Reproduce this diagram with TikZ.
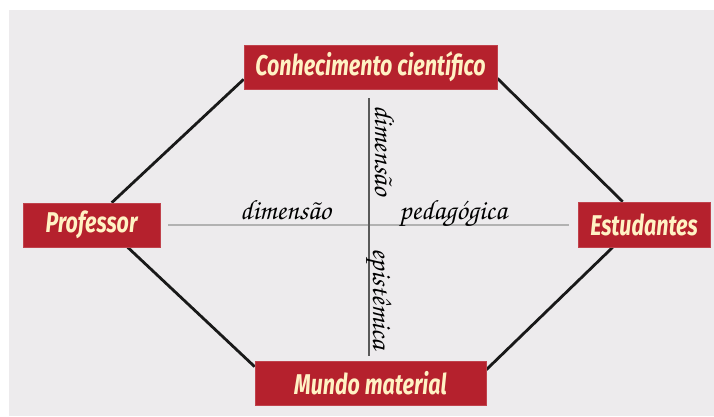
\documentclass[tikz,border=0pt]{standalone}
\usepackage[T1,TU]{fontenc}
\usepackage{fontspec}
\usepackage{tikz}
\usetikzlibrary{positioning,calc,backgrounds}
\usepackage{xcolor}
\definecolor{boxred}{RGB}{181,33,45}
\definecolor{boxtext}{RGB}{255,242,196}
\definecolor{paper}{RGB}{237,235,237}
\newfontfamily\boxfont[FakeStretch=0.75]{Fira Sans}
\newcommand{\handfont}{\fontencoding{T1}\fontfamily{pzc}\fontseries{mb}\fontshape{it}\selectfont}

\begin{document}
\begin{tikzpicture}[
    x=1pt, y=-1pt,
    box/.style={fill=boxred, draw=boxred!85!white, line width=0.6pt, inner sep=0pt, minimum height=44pt, text=boxtext, font=\boxfont\bfseries\itshape\fontsize{28.6}{28.6}\selectfont},
    hand/.style={inner sep=0pt, text=black, font=\handfont\fontsize{28}{28}\selectfont},
    edge/.style={line width=2.8pt, black!90},
    axis/.style={line width=1.1pt}
]
\useasboundingbox (0,0) rectangle (714,416);

% ========== CORNER NODES ==========
\node[box, minimum width=253pt] (conh) at (370.5,67) {Conhecimento científico};
\node[box, minimum width=137pt] (prof) at (91.5,225) {Professor};
\node[box, minimum width=132pt, minimum height=45pt] (estu) at (644,224.5) {Estudantes};
\node[box, minimum width=231pt] (mundo) at (370.5,383) {Mundo material};

% ========== AXES ==========
\coordinate (hleft) at (168,225);
\coordinate (hright) at (569,225);
\coordinate (vtop) at (369,98);
\coordinate (vbottom) at (369,356);

% ========== LABELS ==========
\node[hand, anchor=base west] (dimh) at (240,219) {dimensão};
\node[hand, anchor=base west] (ped) at (399,219) {pedagógica};
\node[hand, anchor=base west, rotate=-90] (dimv) at (375,105) {dimensão};
\node[hand, anchor=base west, rotate=-90] (epi) at (373,248) {epistêmica};

\begin{pgfonlayer}{background}
\fill[white] (0,0) rectangle (714,416);
\fill[paper] (9,10) rectangle (714,416);
% sides of the hexagon
\draw[edge] ($(conh.south west)+(0,-10)$) -- ($(prof.north west)+(89,0)$);
\draw[edge] ($(conh.south east)+(0,-11)$) -- ($(estu.north west)+(45,0)$);
\draw[edge] ($(prof.south west)+(105,0)$) -- ($(mundo.north west)+(0,6)$);
\draw[edge] ($(estu.south west)+(35,0)$) -- ($(mundo.north east)+(0,9)$);
% cross
\draw[axis, black!30] (hleft) -- (hright);
\draw[axis, black!65] (vtop) -- (vbottom);
\end{pgfonlayer}

\end{tikzpicture}
\end{document}
